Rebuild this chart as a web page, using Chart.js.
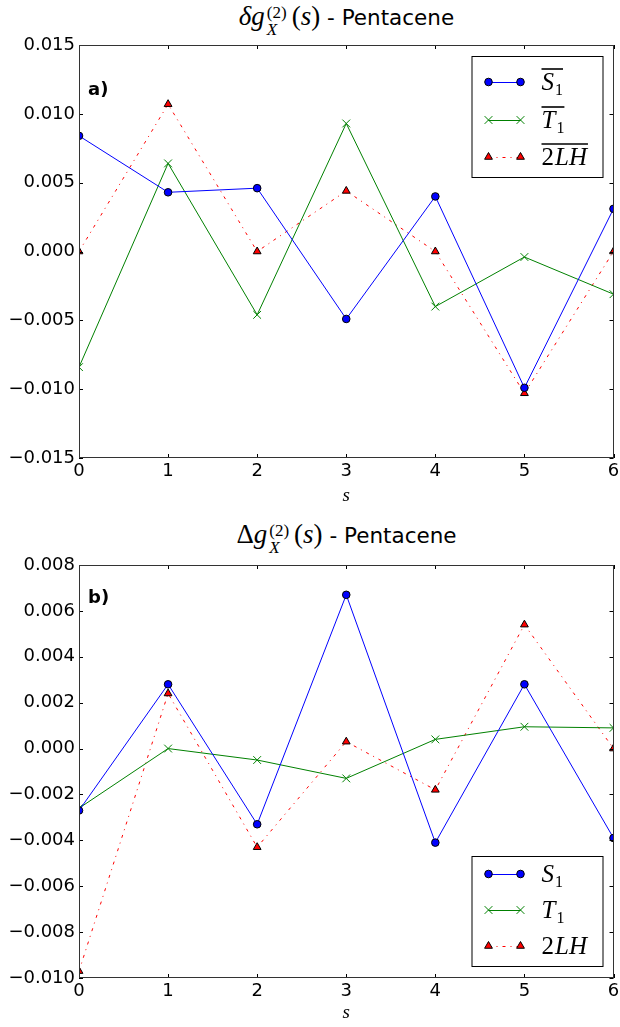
<!DOCTYPE html>
<html><head><meta charset="utf-8">
<script src="https://cdn.jsdelivr.net/npm/chart.js@4/dist/chart.umd.min.js"></script>
<style>
body{margin:0;background:#fff;width:620px;height:1027px;overflow:hidden;position:relative;font-family:"DejaVu Sans",sans-serif;}
canvas{position:absolute;left:0;}
.title{position:absolute;left:79px;width:535px;text-align:center;font-size:21.5px;line-height:30px;color:#000;white-space:nowrap;}
.m{font-family:"Liberation Serif",serif;font-style:italic;font-size:27px;}
.r{font-family:"Liberation Serif",serif;font-size:27px;}
.ss{display:inline-block;vertical-align:middle;line-height:17px;text-align:left;position:relative;top:2px;margin:0 5px 0 2px}
.ss span{display:block;font-family:"Liberation Serif",serif;font-size:17px}
</style></head>
<body>
<div class="title" style="top:1px"><span class="m">δg</span><span class="ss"><span>(2)</span><span style="font-style:italic">X</span></span><span class="r">(</span><span class="m">s</span><span class="r">)</span> - Pentacene</div>
<div class="title" style="top:519px"><span class="r">Δ</span><span class="m">g</span><span class="ss"><span>(2)</span><span style="font-style:italic">X</span></span><span class="r">(</span><span class="m">s</span><span class="r">)</span> - Pentacene</div>
<canvas id="c1" width="620" height="510" style="top:0;width:620px;height:510px"></canvas>
<canvas id="c2" width="620" height="517" style="top:510px;width:620px;height:517px"></canvas>
<script>
// ---- data ----
const sValues = [0, 1, 2, 3, 4, 5, 6];
const topS1  = [0.0084, 0.0043, 0.0046, -0.0049, 0.0040, -0.0099, 0.0031];
const topT1  = [-0.0084, 0.0064, -0.0046, 0.0093, -0.0040, -0.0004, -0.0031];
const top2LH = [0.0, 0.0107, 0.0, 0.0044, 0.0, -0.0103, 0.0];
const botS1  = [-0.0027, 0.0028, -0.0033, 0.0067, -0.0041, 0.0028, -0.0039];
const botT1  = [-0.0026, 0.0, -0.0005, -0.0013, 0.0004, 0.00095, 0.0009];
const bot2LH = [-0.0097, 0.0024, -0.0043, 0.0003, -0.0018, 0.0054, 0.0];
const topYTicks = [-0.015, -0.010, -0.005, 0.000, 0.005, 0.010, 0.015];
const botYTicks = [-0.010, -0.008, -0.006, -0.004, -0.002, 0.000, 0.002, 0.004, 0.006, 0.008];
const xTicks = [0, 1, 2, 3, 4, 5, 6];
const seriesNames = ['S1', 'T1', '2LH'];

const pts = (vals) => sValues.map((x, i) => ({x: x, y: vals[i]}));

function makeDatasets(s1, t1, lh) {
  return [
    {label: seriesNames[0], data: pts(s1), borderColor: '#0000ff', borderWidth: 1,
     pointStyle: 'circle', pointRadius: 3.8, pointBackgroundColor: '#0000ff',
     pointBorderColor: '#000', pointBorderWidth: 1, clip: 0, tension: 0},
    {label: seriesNames[1], data: pts(t1), borderColor: '#008000', borderWidth: 1,
     pointStyle: 'crossRot', pointRadius: 5.5, pointBackgroundColor: '#008000',
     pointBorderColor: '#008000', pointBorderWidth: 1, clip: 0, tension: 0},
    {label: seriesNames[2], data: pts(lh), borderColor: '#ff0000', borderWidth: 1,
     borderDash: [3, 5, 1, 5],
     pointStyle: 'triangle', pointRadius: 4.5, pointBackgroundColor: '#ff0000',
     pointBorderColor: '#000', pointBorderWidth: 1, clip: 0, tension: 0}
  ];
}

const frame = {
  id: 'frame',
  afterDatasetsDraw(chart) {
    const {ctx, chartArea: a, scales} = chart;
    ctx.save();
    ctx.strokeStyle = '#000';
    ctx.lineWidth = 1;
    ctx.beginPath();
    scales.x.ticks.forEach(t => {
      const px = Math.round(scales.x.getPixelForValue(t.value)) + 0.5;
      ctx.moveTo(px, a.bottom); ctx.lineTo(px, a.bottom - 4);
      ctx.moveTo(px, a.top); ctx.lineTo(px, a.top + 4);
    });
    scales.y.ticks.forEach(t => {
      const py = Math.round(scales.y.getPixelForValue(t.value)) + 0.5;
      ctx.moveTo(a.left, py); ctx.lineTo(a.left + 4, py);
      ctx.moveTo(a.right, py); ctx.lineTo(a.right - 4, py);
    });
    ctx.stroke();
    ctx.strokeStyle = '#333';
    ctx.strokeRect(Math.round(a.left) + 0.5, Math.round(a.top) + 0.5,
                   Math.round(a.right - a.left) - 1, Math.round(a.bottom - a.top) - 1);
    // panel letter
    const o = chart.options.plugins.frame;
    ctx.fillStyle = '#000';
    ctx.font = 'bold 18px "DejaVu Sans"';
    ctx.textBaseline = 'alphabetic';
    ctx.fillText(o.letter, a.left + 9, a.top + o.letterY);
    // legend
    const L = o.legend;
    const bx = a.right - 142, bw = 131;
    const by = L.top != null ? a.top + L.top : a.bottom - L.bottom - L.height;
    ctx.fillStyle = '#fff';
    ctx.fillRect(bx, by, bw, L.height);
    ctx.strokeStyle = '#000';
    ctx.strokeRect(bx + 0.5, by + 0.5, bw, L.height);
    chart.data.datasets.forEach((ds, i) => {
      const y = by + L.rows[i];
      const x1 = bx + 17, x2 = bx + 49;
      ctx.save();
      ctx.strokeStyle = ds.borderColor; ctx.lineWidth = 1;
      ctx.setLineDash(ds.borderDash || []);
      ctx.beginPath(); ctx.moveTo(x1, y + 0.5); ctx.lineTo(x2, y + 0.5); ctx.stroke();
      ctx.restore();
      [x1, x2].forEach(px => {
        ctx.save();
        ctx.fillStyle = ds.pointBackgroundColor; ctx.strokeStyle = ds.pointBorderColor;
        ctx.lineWidth = ds.pointBorderWidth;
        Chart.helpers.drawPoint(ctx, {pointStyle: ds.pointStyle, radius: ds.pointRadius, rotation: 0, borderWidth: ds.pointBorderWidth}, px, y);
        ctx.restore();
      });
      // label text
      ctx.fillStyle = '#000';
      ctx.textBaseline = 'alphabetic';
      let tx = bx + 70;
      const base = y + 8;
      const parts = L.labels[i];
      const startX = tx;
      parts.forEach(p => {
        ctx.font = (p.it ? 'italic ' : '') + (p.sub ? '16px' : '25px') + ' "Liberation Serif"';
        ctx.fillText(p.t, tx, base + (p.sub ? 5 : 0));
        tx += ctx.measureText(p.t).width + (p.sub ? 0 : 1);
      });
      if (L.overline) {
        ctx.save();
        ctx.lineWidth = 1.6;
        ctx.beginPath(); ctx.moveTo(startX, base - 21); ctx.lineTo(tx, base - 21); ctx.stroke();
        ctx.restore();
      }
    });
    ctx.restore();
  }
};

const legendLabels = [
  [{t: 'S', it: true}, {t: '1', sub: true}],
  [{t: 'T', it: true}, {t: '1', sub: true}],
  [{t: '2'}, {t: 'LH', it: true}]
];

function makeChart(id, datasets, yTicks, padTop, xHeight, frameOpts) {
  const fmt = v => (Math.abs(v) < 1e-12 ? 0 : v).toFixed(3).replace('-', '\u2212');
  return new Chart(document.getElementById(id), {
    type: 'line',
    data: {datasets: datasets},
    plugins: [frame],
    options: {
      responsive: false, animation: false, devicePixelRatio: 1,
      layout: {padding: {left: 0, right: 6, top: padTop, bottom: 0}},
      plugins: {legend: {display: false}, tooltip: {enabled: false}, frame: frameOpts},
      scales: {
        x: {type: 'linear', min: xTicks[0], max: xTicks[xTicks.length - 1],
            grid: {display: false, drawTicks: false}, border: {display: false},
            afterFit: s => { s.height = xHeight; s.paddingRight = 0; s.paddingLeft = 0; },
            afterBuildTicks: s => { s.ticks = xTicks.map(v => ({value: v})); },
            ticks: {color: '#000', font: {family: 'DejaVu Sans', size: 18}, padding: 3,
                    maxRotation: 0, autoSkip: false, callback: v => String(v)},
            title: {display: true, text: 's', color: '#000', padding: {top: 0, bottom: 3},
                    font: {family: 'Liberation Serif', style: 'italic', size: 19}}},
        y: {min: yTicks[0], max: yTicks[yTicks.length - 1],
            grid: {display: false, drawTicks: false}, border: {display: false},
            afterFit: s => { s.width = 79; },
            afterBuildTicks: s => { s.ticks = yTicks.map(v => ({value: v})); },
            ticks: {color: '#000', font: {family: 'DejaVu Sans', size: 18}, padding: 4,
                    autoSkip: false, callback: fmt}}
      }
    }
  });
}

makeChart('c1', makeDatasets(topS1, topT1, top2LH), topYTicks, 45, 52,
  {letter: 'a)', letterY: 50, legend: {top: 11, height: 121, rows: [26, 64, 101], overline: true, labels: legendLabels}});
makeChart('c2', makeDatasets(botS1, botT1, bot2LH), botYTicks, 55, 49,
  {letter: 'b)', letterY: 38, legend: {bottom: 12, height: 110, rows: [18, 54, 90], overline: false, labels: legendLabels}});
</script>
</body></html>
